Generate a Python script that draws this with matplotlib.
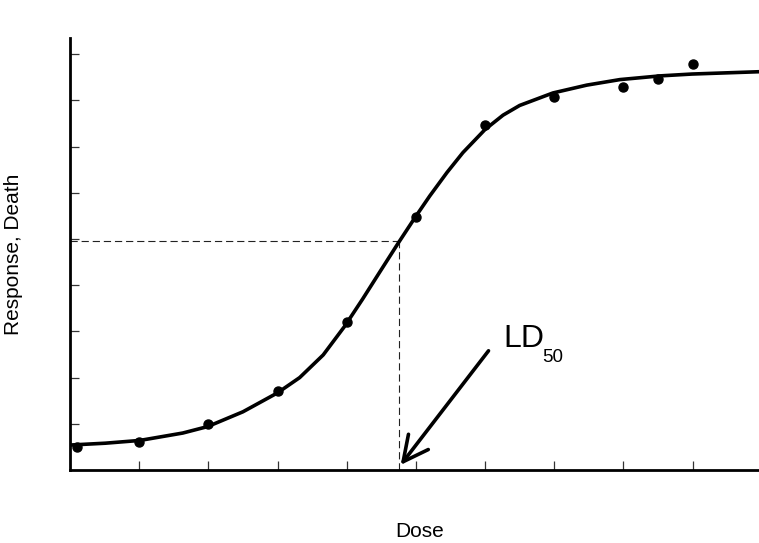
import matplotlib
matplotlib.use('Agg')
import matplotlib.pyplot as plt

plt.rcParams['font.family'] = ['Liberation Sans', 'DejaVu Sans']

# observed points (dose in tick units, response in tick units)
dose_obs = [0.1, 1.0, 2.0, 3.0, 4.0, 5.0, 6.0, 7.0, 8.0, 8.5, 9.0]
resp_obs = [0.50, 0.61, 1.00, 1.71, 3.20, 5.48, 7.47, 8.07, 8.29, 8.46, 8.79]

# fitted curve
dose_fit = [0.00, 0.51, 1.01, 1.63, 1.99, 2.50, 3.00, 3.32, 3.66, 3.97, 4.23,
            4.48, 4.74, 4.99, 5.20, 5.45, 5.68, 6.00, 6.26, 6.50, 6.98, 7.47,
            7.95, 8.53, 8.99, 9.96]
resp_fit = [0.54, 0.58, 0.64, 0.80, 0.94, 1.26, 1.67, 2.00, 2.49, 3.11, 3.70,
            4.29, 4.90, 5.47, 5.93, 6.44, 6.87, 7.37, 7.68, 7.89, 8.16, 8.33,
            8.45, 8.53, 8.57, 8.62]

ld50_dose = 4.76
ld50_resp = 4.96

fig = plt.figure(figsize=(7.59, 5.43), dpi=100)
ax = fig.add_axes([70/759, 1-470/543, 1-70/759, (470-38)/543])

ax.plot(dose_fit, resp_fit, color='black', lw=2.6, solid_joinstyle='round', zorder=3)
ax.plot(dose_obs, resp_obs, 'o', color='black', ms=6.5, zorder=4)

ax.plot([0, ld50_dose], [ld50_resp, ld50_resp], color='#222222', lw=0.8,
        ls=(0, (6.5, 3.5)), zorder=2)
ax.plot([ld50_dose, ld50_dose], [0, ld50_resp], color='#222222', lw=0.8,
        ls=(0, (6.5, 3.5)), zorder=2)

ax.annotate('', xy=(4.78, 0.11), xytext=(6.05, 2.58),
            arrowprops=dict(arrowstyle='->,head_length=0.9,head_width=0.45',
                            lw=2.6, color='black', shrinkA=0, shrinkB=0,
                            mutation_scale=20))
ax.text(6.26, 2.66, 'LD', fontsize=23, va='baseline', ha='left')
ax.text(6.82, 2.34, '50', fontsize=13.5, va='baseline', ha='left')

ax.set_xlim(0, 9.96)
ax.set_ylim(0, 9.35)
ax.set_xticks(range(1, 10))
ax.set_yticks(range(1, 10))
ax.set_xticklabels([])
ax.set_yticklabels([])
ax.tick_params(direction='in', length=6.5, width=0.9, color='#333333')

for s in ['top', 'right']:
    ax.spines[s].set_visible(False)
for s in ['left', 'bottom']:
    ax.spines[s].set_linewidth(2.0)

fig.text(420/759, 1-537/543, 'Dose', fontsize=15, ha='center', va='baseline')
fig.text(14/759, 1-254/543, 'Response, Death', fontsize=15, rotation=90,
         ha='center', va='center')

fig.savefig('out.png', dpi=100)
